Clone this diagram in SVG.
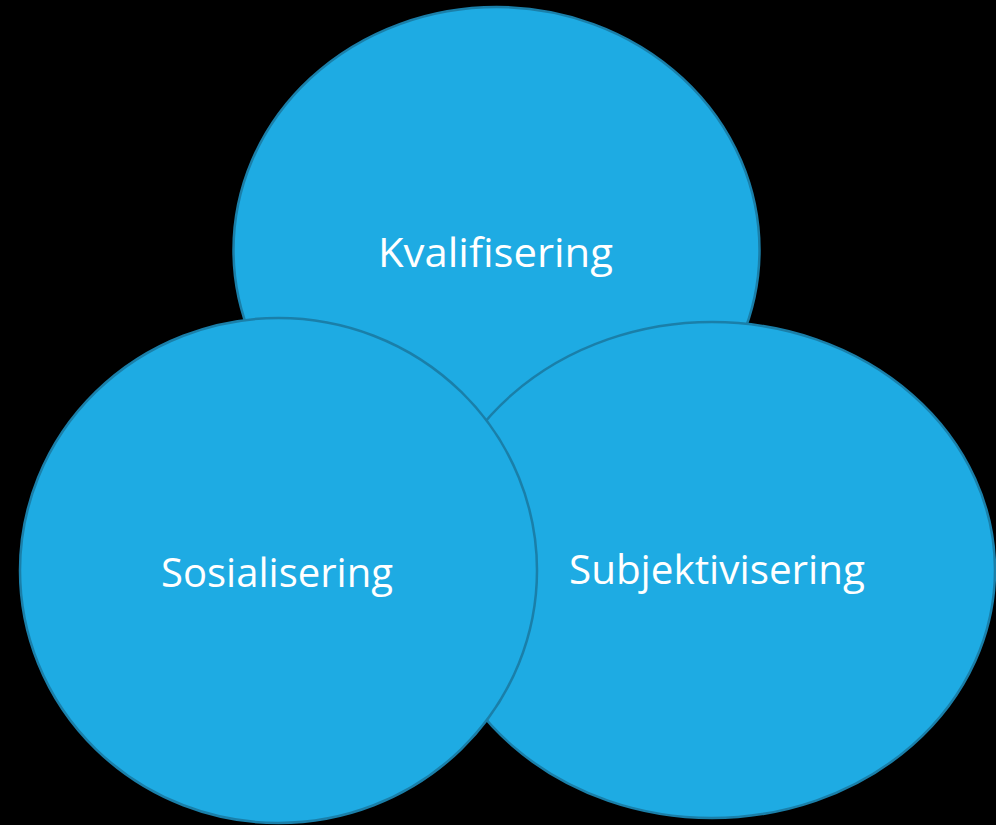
<svg xmlns="http://www.w3.org/2000/svg" width="996" height="825" viewBox="0 0 996 825">
<style>
.c{fill:#1eabe3;stroke:#1a7fa9;stroke-width:2.5}
.t{fill:#ffffff;font-family:"Open Sans","Liberation Sans",sans-serif;font-size:40px;text-anchor:middle}
</style>
<rect width="996" height="825" fill="#000"/>
<g id="kvalifisering">
<ellipse class="c" cx="496.5" cy="250" rx="263" ry="243"/>
<text class="t" x="495.5" y="267" textLength="235" lengthAdjust="spacingAndGlyphs">Kvalifisering</text>
</g>
<g id="subjektivisering">
<ellipse class="c" cx="712" cy="570" rx="283" ry="248"/>
<text class="t" x="717" y="584" textLength="296" lengthAdjust="spacingAndGlyphs">Subjektivisering</text>
</g>
<g id="sosialisering">
<ellipse class="c" cx="278.5" cy="570.5" rx="258.5" ry="252.5"/>
<text class="t" x="277" y="587" textLength="232" lengthAdjust="spacingAndGlyphs">Sosialisering</text>
</g>
<g id="connectors"/>
</svg>
